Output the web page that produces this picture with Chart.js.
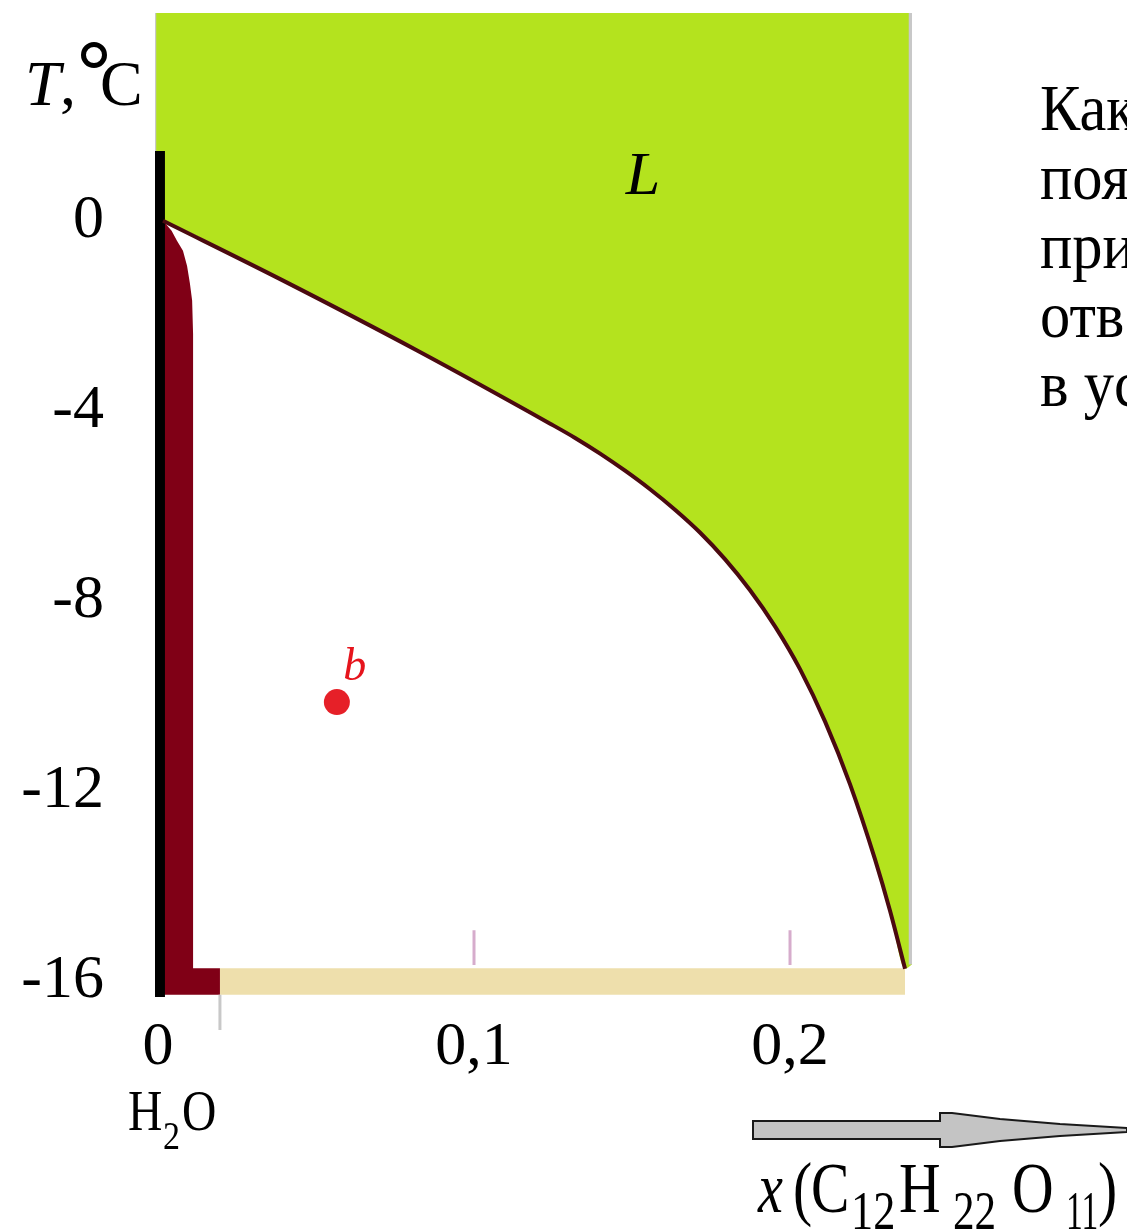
<!DOCTYPE html>
<html>
<head>
<meta charset="utf-8">
<script src="https://cdn.jsdelivr.net/npm/chart.js@4.4.1/dist/chart.umd.min.js"></script>
<style>
  html, body { margin: 0; padding: 0; background: #ffffff; overflow: hidden; }
  canvas { display: block; }
</style>
</head>
<body>
<canvas id="diagram" width="1127" height="1232"></canvas>
<script>
// Phase diagram of the water – sucrose system: T (°C) against mole fraction x of C12H22O11.

// Liquidus (freezing-point curve of the solution)
const liquidusX = [0.0016, 0.0396, 0.0820, 0.1241, 0.1320, 0.1399, 0.1478, 0.1557, 0.1636, 0.1715,
                   0.1794, 0.1873, 0.1953, 0.2032, 0.2111, 0.2190, 0.2269, 0.2316, 0.2364];
const liquidusT = [0, -1.26, -2.73, -4.27, -4.57, -4.90, -5.26, -5.65, -6.08, -6.56,
                   -7.12, -7.77, -8.54, -9.44, -10.54, -11.86, -13.44, -14.51, -15.74];

// Upper edge of the ice region next to the pure-water axis
const iceX = [0.0016, 0.0043, 0.0060, 0.0079, 0.0092, 0.0101, 0.0108, 0.0111, 0.0111, 0.0196];
const iceT = [0, -0.21, -0.42, -0.63, -0.95, -1.32, -1.68, -2.38, -15.73, -15.73];

// Eutectic line (solid ice + solid sucrose)
const eutecticX = [0.0196, 0.2364];
const eutecticTop = -15.73;
const eutecticBottom = -16.29;

// Pure water (x = 0) axis bar
const waterBarX = [-0.0019, 0.0022];
const waterBarTop = 1.47;

// Composition point b
const pointBX = [0.0566];
const pointBT = [-10.13];

// Small marks on the eutectic line
const markX = [0.1, 0.2];
const markTop = -14.93;
const markBottom = -15.66;

// Axis ticks
const xTicks = [0, 0.1, 0.2];
const xTickLabels = ['0', '0,1', '0,2'];
const yTicks = [0, -4, -8, -12, -16];
const yTickLabels = ['0', '-4', '-8', '-12', '-16'];

// Visible axis ranges
const xMin = -0.00095, xMax = 0.2386;
const yMin = -16.336, yMax = 4.373;

const pts = (xs, ys) => xs.map((x, i) => ({ x: x, y: ys[i] }));
const GREEN = 'rgb(180,227,30)';
const SERIF = '"Liberation Serif", "Times New Roman", serif';

const liquidPts = pts(liquidusX, liquidusT);
const greenPts = [{ x: xMin, y: 0.05 }].concat(liquidPts, [{ x: xMax, y: -15.65 }]);

const baseLine = { type: 'line', pointRadius: 0, pointHoverRadius: 0, tension: 0, borderWidth: 0 };

const datasets = [
  // Liquid region L
  Object.assign({}, baseLine, {
    data: greenPts, fill: 'end', backgroundColor: GREEN, borderColor: GREEN,
    cubicInterpolationMode: 'monotone', order: 10
  }),
  // Eutectic bar
  Object.assign({}, baseLine, {
    data: pts(eutecticX, [eutecticTop, eutecticTop]), fill: { value: eutecticBottom },
    backgroundColor: 'rgb(238,223,172)', order: 9
  }),
  // Ice region
  Object.assign({}, baseLine, {
    data: pts(iceX, iceT), fill: { value: eutecticBottom },
    backgroundColor: 'rgb(128,0,22)', order: 8
  }),
  // Water axis bar
  Object.assign({}, baseLine, {
    data: pts(waterBarX, [waterBarTop, waterBarTop]), fill: { value: yMin },
    backgroundColor: '#000000', order: 7
  }),
  // Frame edges
  Object.assign({}, baseLine, {
    data: [{ x: -0.0012, y: yMax }, { x: -0.0012, y: waterBarTop }],
    borderColor: 'rgb(200,200,200)', borderWidth: 4, fill: false, order: 6
  }),
  Object.assign({}, baseLine, {
    data: [{ x: xMax - 0.0004, y: yMax }, { x: xMax - 0.0004, y: -15.65 }],
    borderColor: 'rgb(200,200,200)', borderWidth: 4, fill: false, order: 6
  }),
  // Marks on the eutectic line
  Object.assign({}, baseLine, {
    data: [{ x: markX[0], y: markTop }, { x: markX[0], y: markBottom }],
    borderColor: 'rgb(214,172,204)', borderWidth: 3, fill: false, order: 5
  }),
  Object.assign({}, baseLine, {
    data: [{ x: markX[1], y: markTop }, { x: markX[1], y: markBottom }],
    borderColor: 'rgb(214,172,204)', borderWidth: 3, fill: false, order: 5
  }),
  // Tick below the ice / eutectic junction
  Object.assign({}, baseLine, {
    data: [{ x: eutecticX[0], y: eutecticBottom }, { x: eutecticX[0], y: -17.03 }],
    borderColor: 'rgb(200,200,200)', borderWidth: 3, fill: false, clip: false, order: 5
  }),
  // Liquidus curve
  Object.assign({}, baseLine, {
    data: liquidPts, borderColor: 'rgb(75,10,16)', borderWidth: 4, fill: false,
    cubicInterpolationMode: 'monotone', order: 2
  }),
  // Point b
  {
    type: 'scatter', data: pts(pointBX, pointBT), pointRadius: 13, pointHoverRadius: 13,
    backgroundColor: 'rgb(230,32,40)', borderWidth: 0, order: 1
  }
];

function txt(ctx, s, x, y, font, color, sx, align) {
  ctx.save();
  ctx.font = font;
  ctx.fillStyle = color || '#000';
  ctx.textAlign = align || 'left';
  ctx.textBaseline = 'alphabetic';
  ctx.translate(x, y);
  ctx.scale(sx || 1, 1);
  ctx.fillText(s, 0, 0);
  ctx.restore();
}

const annotations = {
  id: 'annotations',
  afterDraw(chart) {
    const ctx = chart.ctx;
    const xs = chart.scales.x, ys = chart.scales.y;

    // Axis title T, °C
    txt(ctx, 'T', 25, 105, 'italic 64px ' + SERIF);
    txt(ctx, ',', 60, 105, '64px ' + SERIF);
    ctx.save();
    ctx.beginPath();
    ctx.arc(94, 55, 10.5, 0, Math.PI * 2);
    ctx.lineWidth = 5;
    ctx.strokeStyle = '#000';
    ctx.stroke();
    ctx.restore();
    txt(ctx, 'C', 100, 105, '64px ' + SERIF);

    // Region label L
    txt(ctx, 'L', xs.getPixelForValue(0.1535), ys.getPixelForValue(0.57), 'italic 62px ' + SERIF, '#000', 1, 'center');

    // Label of point b
    const bx = xs.getPixelForValue(pointBX[0]), by = ys.getPixelForValue(pointBT[0]);
    txt(ctx, 'b', bx + 18, by - 22, 'italic 46px ' + SERIF, 'rgb(230,20,28)', 1, 'center');

    // H2O under the zero of the composition axis
    txt(ctx, 'H', 128, 1130, '58px ' + SERIF, '#000', 0.82);
    txt(ctx, '2', 163, 1149, '40px ' + SERIF, '#000', 0.85);
    txt(ctx, 'O', 182, 1130, '58px ' + SERIF, '#000', 0.82);

    // Direction arrow of the composition axis
    ctx.save();
    ctx.beginPath();
    const arrow = [[753,1121],[940,1121],[940,1113],[952,1113],[1000,1119],[1060,1124],[1127,1128],
                   [1127,1132],[1060,1136],[1000,1141],[952,1147],[940,1147],[940,1139],[753,1139]];
    arrow.forEach((p, i) => i ? ctx.lineTo(p[0], p[1]) : ctx.moveTo(p[0], p[1]));
    ctx.closePath();
    ctx.fillStyle = 'rgb(196,196,196)';
    ctx.fill();
    ctx.lineWidth = 2;
    ctx.strokeStyle = '#1a1a1a';
    ctx.stroke();
    ctx.restore();

    // Composition axis title x (C12H22 O11)
    const big = '72px ' + SERIF, sub = '54px ' + SERIF, sx = 0.8;
    txt(ctx, 'x', 758, 1212, 'italic ' + big, '#000', 0.78);
    txt(ctx, '(', 793, 1212, big, '#000', sx);
    txt(ctx, 'C', 811, 1212, big, '#000', sx);
    txt(ctx, '12', 851, 1229, sub, '#000', 0.82);
    txt(ctx, 'H', 899, 1212, big, '#000', sx);
    txt(ctx, '22', 953, 1229, sub, '#000', 0.8);
    txt(ctx, 'O', 1012, 1212, big, '#000', sx);
    txt(ctx, '11', 1066, 1229, sub, '#000', 0.62);
    txt(ctx, ')', 1098, 1212, big, '#000', sx);

    // Question text on the right
    const lines = ['Как', 'поя', 'при', 'отв', 'в ус'];
    lines.forEach((s, i) => txt(ctx, s, 1040, 130 + i * 69, '65px ' + SERIF, '#000', 0.93));
  }
};

new Chart(document.getElementById('diagram'), {
  type: 'line',
  data: { datasets: datasets },
  options: {
    responsive: false,
    animation: false,
    events: [],
    layout: { padding: { top: 12, right: 215, left: 0, bottom: 0 } },
    plugins: { legend: { display: false }, tooltip: { enabled: false } },
    scales: {
      x: {
        type: 'linear', min: xMin, max: xMax,
        grid: { display: false }, border: { display: false },
        afterBuildTicks: s => { s.ticks = xTicks.map(v => ({ value: v })); },
        afterFit: s => { s.height = 235; s.paddingLeft = 0; s.paddingRight = 0; },
        ticks: {
          autoSkip: false, maxRotation: 0, padding: 6, color: '#000',
          font: { family: SERIF, size: 62 },
          callback: v => xTickLabels[xTicks.indexOf(v)] ?? ''
        }
      },
      y: {
        type: 'linear', min: yMin, max: yMax,
        grid: { display: false }, border: { display: false },
        afterBuildTicks: s => { s.ticks = yTicks.map(v => ({ value: v })); },
        afterFit: s => { s.width = 155; s.paddingTop = 0; s.paddingBottom = 0; },
        ticks: {
          autoSkip: false, padding: 43, color: '#000',
          font: { family: SERIF, size: 62 },
          callback: v => yTickLabels[yTicks.indexOf(v)] ?? ''
        }
      }
    }
  },
  plugins: [annotations]
});
</script>
</body>
</html>
